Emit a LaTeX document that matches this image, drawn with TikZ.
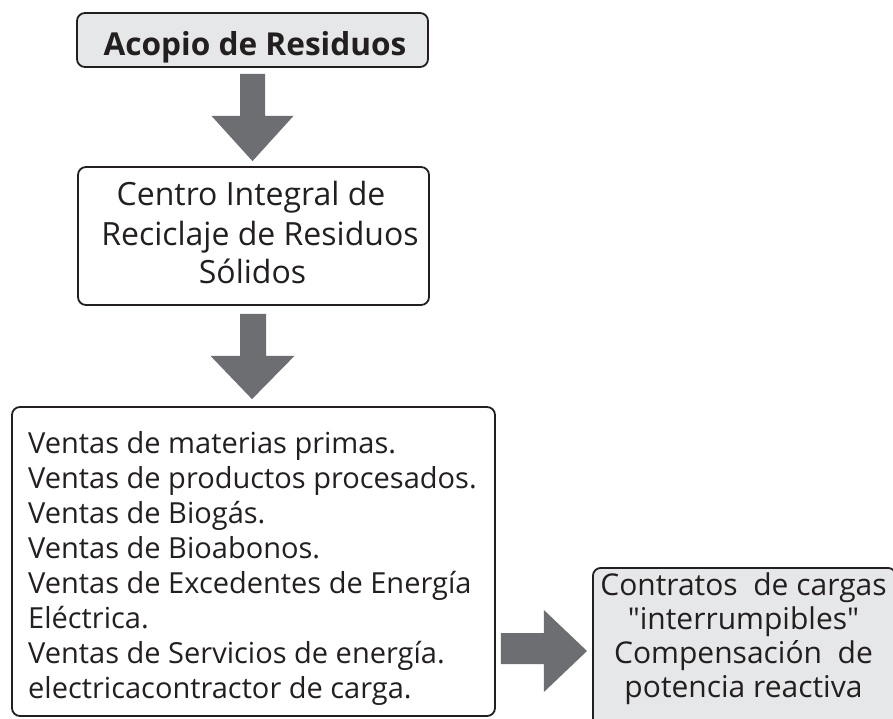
\documentclass[tikz,border=0pt]{standalone}
\usepackage{fontspec}
\setmainfont{Open Sans}
\usetikzlibrary{calc}
\definecolor{boxgray}{HTML}{E6E7E8}
\definecolor{arrowgray}{HTML}{6D6E71}
\definecolor{ink}{HTML}{231F20}
\tikzset{
  box/.style={draw=ink, line width=1.8pt, rounded corners=8pt, inner sep=0pt},
  graybox/.style={box, fill=boxgray},
  bigtext/.style={inner sep=0pt, font=\fontsize{32}{39}\selectfont, text=ink, align=center},
  smalltext/.style={inner sep=0pt, font=\fontsize{29}{35.1}\selectfont, text=ink},
  fatarrow/.style={fill=arrowgray, draw=none}
}
\begin{document}
\begin{tikzpicture}[x=1pt,y=-1pt]
\clip (0,0) rectangle (893,718);
\fill[white] (0,0) rectangle (893,718);
% boxes
\node[graybox, minimum width=351pt, minimum height=54pt] (b1) at (252.5,40) {};
\node[box, minimum width=351pt, minimum height=138pt] (b2) at (253.5,236) {};
\node[box, minimum width=483pt, minimum height=309pt] (b3) at (253.5,561.5) {};
\node[graybox, minimum width=303pt, minimum height=170pt, anchor=north west] (b4) at (592,567) {};
% texts
\node[inner sep=0pt, font=\fontsize{31.6}{39}\bfseries\selectfont, text=ink, anchor=base] (t1) at (255,55) {Acopio de Residuos};
\node[bigtext, anchor=base] (t2a) at (251,205) {Centro Integral de};
\node[bigtext, anchor=base] (t2b) at (260,245) {Reciclaje de Residuos};
\node[bigtext, anchor=base] (t2c) at (252.5,283) {Sólidos};
\node[smalltext, anchor=north west, align=left] (t3) at (28,431) {Ventas de materias primas.\\
Ventas de productos procesados.\\
Ventas de Biogás.\\
Ventas de Bioabonos.\\
Ventas de Excedentes de Energía\\
Eléctrica.\\
Ventas de Servicios de energía.\\
electricacontractor de carga.};
\node[inner sep=0pt, font=\fontsize{30}{34.3}\selectfont\addfontfeatures{Ligatures=TeXOff}, text=ink, anchor=north, align=center] (t4) at (743.5,572) {Contratos\ \ de cargas\\
"interrumpibles"\\
Compensación\ \ de\\
potencia reactiva};
% arrows
\fill[fatarrow] ($(b1.south)+(-12.5,6)$) -- ($(b1.south)+(12.5,6)$) -- ($(b1.south)+(12.5,48)$) -- ($(b1.south)+(41,48)$)
  -- ($(b2.north)+(-1,-5)$) -- ($(b1.south)+(-41,48)$) -- ($(b1.south)+(-12.5,48)$) -- cycle;
\fill[fatarrow] ($(b2.south)+(-13.5,8)$) -- ($(b2.south)+(12.5,8)$) -- ($(b2.south)+(12.5,50)$) -- ($(b2.south)+(41,50)$)
  -- ($(b3.north)+(-1.5,-7)$) -- ($(b2.south)+(-43,50)$) -- ($(b2.south)+(-13.5,50)$) -- cycle;
\coordinate (b3e) at (b3.east |- 0,650);
\fill[fatarrow] ($(b3e)+(5,-17)$) -- ($(b3e)+(48,-17)$) -- ($(b3e)+(48,-40)$) -- ($(b4.west |- 0,651)+(-5,0)$)
  -- ($(b3e)+(48,42)$) -- ($(b3e)+(48,14)$) -- ($(b3e)+(5,14)$) -- cycle;
\end{tikzpicture}
\end{document}
